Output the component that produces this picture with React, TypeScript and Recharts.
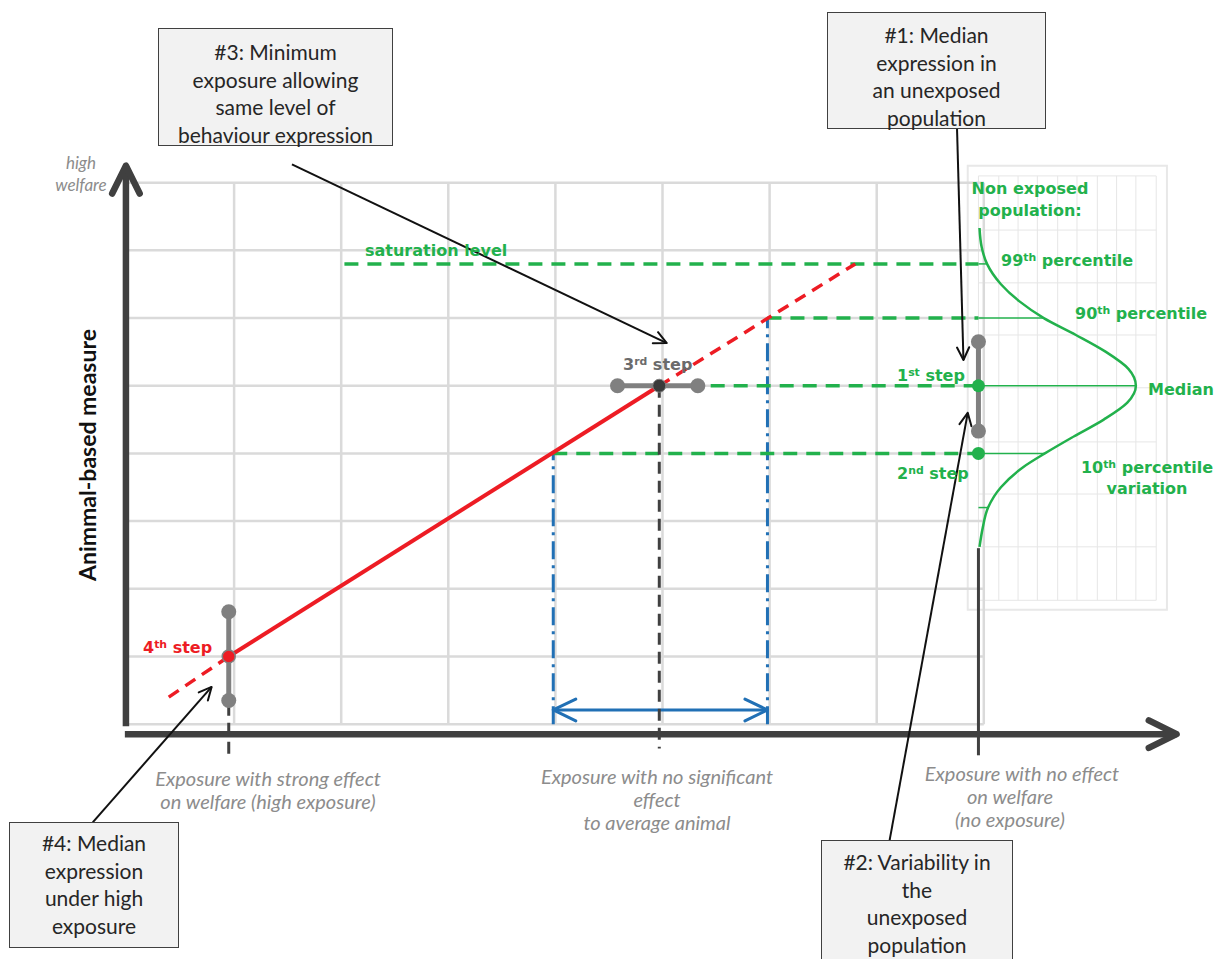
import React from 'react';
import { LineChart, Line, XAxis, YAxis, ReferenceLine, ReferenceDot, ReferenceArea } from 'recharts';

// grid ticks: exposure units along x, measure units along y
const gridX = [1, 2, 3, 4, 5, 6, 7, 8];
const gridY = [0, 1, 2, 3, 4, 5, 6, 7, 8];
// faint grid behind the distribution panel
const distGridX = [7.95, 8.14, 8.32, 8.5, 8.69, 8.87, 9.06, 9.24, 9.42, 9.61];
const distGridY = [1.83, 2.62, 3.4, 4.17, 4.97, 5.75, 6.52, 7.3, 8.1];

// response of the animal-based measure to exposure
const responseLow = [{ x: 0.39, y: 0.4 }, { x: 0.95, y: 1.0 }];
const responseMid = [{ x: 0.95, y: 1.0 }, { x: 4.97, y: 5.0 }];
const responseHigh = [{ x: 4.97, y: 5.0 }, { x: 6.8, y: 6.8 }];

// non exposed population (measure -> spread)
const distribution = [
  { y: 2.62, x: 7.96 }, { y: 2.9, x: 7.99 }, { y: 3.2, x: 8.04 }, { y: 3.5, x: 8.16 },
  { y: 3.8, x: 8.37 }, { y: 4.0, x: 8.57 }, { y: 4.25, x: 8.84 }, { y: 4.5, x: 9.12 },
  { y: 4.75, x: 9.34 }, { y: 5.0, x: 9.42 }, { y: 5.25, x: 9.35 }, { y: 5.5, x: 9.14 },
  { y: 5.75, x: 8.86 }, { y: 6.0, x: 8.56 }, { y: 6.25, x: 8.33 }, { y: 6.5, x: 8.16 },
  { y: 6.8, x: 8.03 }, { y: 7.05, x: 7.98 }, { y: 7.33, x: 7.96 },
];
// percentile levels and where they meet the curve
const percentiles = [
  { y: 6.8, x: 8.03 }, { y: 6.0, x: 8.56 }, { y: 5.0, x: 9.42 }, { y: 4.0, x: 8.57 }, { y: 3.2, x: 8.04 },
];

// key exposures
const highExposure = 0.95;
const noSigExposure = 4.97;
const noExposure = 7.95;
const bandLow = 3.98;
const bandHigh = 5.98;

// green dashed levels: [y, start x]
const levels = [
  { y: 6.8, from: 2.03 },
  { y: 6.0, from: 5.98 },
  { y: 5.0, from: 5.45 },
  { y: 4.0, from: 3.98 },
];

// step markers
const step3Bar = [{ x: 4.58, y: 5 }, { x: 5.33, y: 5 }];
const step4Bar = [{ x: 0.95, y: 1.66 }, { x: 0.95, y: 0.35 }];
const step1Bar = [{ x: 7.95, y: 5.65 }, { x: 7.95, y: 4.33 }];

const GREEN = '#22b14c';
const RED = '#ed1c24';
const BLUE = '#2170b5';
const GRAY = '#808080';
const DARK = '#404040';
const GRID = '#dadada';

const arrowShape = (color: string, width: number, head: number, spread: number, both = false) => (p: any) => {
  const { x1, y1, x2, y2 } = p;
  if (x1 == null) return <g />;
  const a = Math.atan2(y2 - y1, x2 - x1);
  const tip = (x: number, y: number, ang: number) =>
    `M${x - head * Math.cos(ang - spread)},${y - head * Math.sin(ang - spread)} L${x},${y} L${x - head * Math.cos(ang + spread)},${y - head * Math.sin(ang + spread)}`;
  const d = tip(x2, y2, a) + (both ? ' ' + tip(x1, y1, a + Math.PI) : '');
  return (
    <g>
      <line x1={x1} y1={y1} x2={x2} y2={y2} stroke={color} strokeWidth={width} />
      <path d={d} fill="none" stroke={color} strokeWidth={width} strokeLinecap="round" strokeLinejoin="round" />
    </g>
  );
};

const Txt: React.FC<{ x: number; y: number; align?: 'left' | 'center'; style?: React.CSSProperties; children: React.ReactNode }> = ({ x, y, align = 'left', style, children }) => {
  const base: React.CSSProperties = { position: 'absolute', top: y - 12, lineHeight: '24px', height: 24, whiteSpace: 'nowrap', ...style };
  if (align === 'center') return <div style={{ ...base, left: x - 200, width: 400, textAlign: 'center' }}>{children}</div>;
  return <div style={{ ...base, left: x }}>{children}</div>;
};

const Sup: React.FC<{ children: React.ReactNode }> = ({ children }) => (
  <span style={{ fontSize: '0.68em', position: 'relative', top: '-0.45em' }}>{children}</span>
);

const Box: React.FC<{ left: number; top: number; width: number; height: number; pad: number; lines: string[] }> = ({ left, top, width, height, pad, lines }) => (
  <div style={{
    position: 'absolute', left, top, width, height, boxSizing: 'border-box', background: '#f2f2f2',
    border: `1.5px solid ${DARK}`, paddingTop: pad, textAlign: 'center', fontFamily: 'Lato, sans-serif',
    fontSize: 21, lineHeight: '27.5px', color: '#262626',
  }}>
    {lines.map((l) => <div key={l}>{l}</div>)}
  </div>
);

const greenLbl: React.CSSProperties = { fontFamily: '"DejaVu Sans", sans-serif', fontWeight: 700, fontSize: 16, color: GREEN };
const axisLbl: React.CSSProperties = { fontFamily: 'Lato, sans-serif', fontStyle: 'italic', fontSize: 20, color: '#8c8c8c' };

export default function App() {
  return (
    <div style={{ position: 'absolute', left: 0, top: 0, width: 1217, height: 959, background: '#fff', overflow: 'hidden' }}>
      <LineChart width={1217} height={959} margin={{ top: 115, right: 19, bottom: 201, left: 127 }}>
        <XAxis type="number" dataKey="x" domain={[0, 10]} allowDataOverflow hide />
        <YAxis type="number" dataKey="y" domain={[-0.5, 9]} allowDataOverflow hide />

        {/* distribution panel */}
        <ReferenceArea x1={7.85} x2={9.71} y1={1.69} y2={8.25} fill="none" stroke="#e8e8e8" strokeWidth={2} ifOverflow="visible" />
        {distGridX.map((v) => (
          <ReferenceLine key={'dx' + v} segment={[{ x: v, y: 1.83 }, { x: v, y: 8.1 }]} stroke="#e6e6e6" strokeWidth={1} />
        ))}
        {distGridY.map((v) => (
          <ReferenceLine key={'dy' + v} segment={[{ x: 7.95, y: v }, { x: 9.61, y: v }]} stroke="#e6e6e6" strokeWidth={1} />
        ))}

        {/* main grid */}
        {gridX.map((v) => (
          <ReferenceLine key={'gx' + v} segment={[{ x: v, y: 0 }, { x: v, y: 8 }]} stroke={GRID} strokeWidth={2.5} />
        ))}
        {gridY.map((v) => (
          <ReferenceLine key={'gy' + v} segment={[{ x: 0, y: v }, { x: 8, y: v }]} stroke={GRID} strokeWidth={2.5} />
        ))}

        {/* band of no significant effect */}
        <ReferenceLine segment={[{ x: bandLow, y: 0 }, { x: bandLow, y: 4 }]} stroke={BLUE} strokeWidth={3} strokeDasharray="18 6 3 6" />
        <ReferenceLine segment={[{ x: bandHigh, y: 0 }, { x: bandHigh, y: 6 }]} stroke={BLUE} strokeWidth={3} strokeDasharray="18 6 3 6" />
        <ReferenceLine segment={[{ x: bandLow, y: 0.21 }, { x: bandHigh, y: 0.21 }]} shape={arrowShape(BLUE, 3, 25, 0.45, true)} />

        {/* green levels */}
        {levels.map((l) => (
          <ReferenceLine key={'lv' + l.y} segment={[{ x: l.from, y: l.y }, { x: noExposure, y: l.y }]} stroke={GREEN} strokeWidth={3.5} strokeDasharray="14 9" />
        ))}
        {percentiles.map((p) => (
          <ReferenceLine key={'pc' + p.y} segment={[{ x: noExposure, y: p.y }, { x: p.x, y: p.y }]} stroke={GREEN} strokeWidth={1.5} />
        ))}

        {/* exposure markers */}
        <ReferenceLine segment={[{ x: noSigExposure, y: 5 }, { x: noSigExposure, y: -0.36 }]} stroke={DARK} strokeWidth={3} strokeDasharray="12 7" ifOverflow="visible" />
        <ReferenceLine segment={[{ x: highExposure, y: 0.3 }, { x: highExposure, y: -0.45 }]} stroke={DARK} strokeWidth={3} strokeDasharray="12 7" ifOverflow="visible" />
        <ReferenceLine segment={[{ x: noExposure, y: 2.6 }, { x: noExposure, y: -0.46 }]} stroke={DARK} strokeWidth={3} ifOverflow="visible" />

        <Line data={distribution} dataKey="y" type="monotoneY" stroke={GREEN} strokeWidth={2.5} dot={false} isAnimationActive={false} />
        <Line data={responseLow} dataKey="y" stroke={RED} strokeWidth={3.5} strokeDasharray="12 8" dot={false} isAnimationActive={false} />
        <Line data={responseMid} dataKey="y" stroke={RED} strokeWidth={4} dot={false} isAnimationActive={false} />
        <Line data={responseHigh} dataKey="y" stroke={RED} strokeWidth={3.5} strokeDasharray="12 8" dot={false} isAnimationActive={false} />

        <Line data={step3Bar} dataKey="y" stroke={GRAY} strokeWidth={5} dot={{ r: 7.5, fill: GRAY, stroke: GRAY, strokeWidth: 0 }} isAnimationActive={false} />
        <Line data={step4Bar} dataKey="y" stroke={GRAY} strokeWidth={5} dot={{ r: 7.5, fill: GRAY, stroke: GRAY, strokeWidth: 0 }} isAnimationActive={false} />
        <Line data={step1Bar} dataKey="y" stroke={GRAY} strokeWidth={5} dot={{ r: 7.5, fill: GRAY, stroke: GRAY, strokeWidth: 0 }} isAnimationActive={false} />

        <ReferenceDot x={noSigExposure} y={5} r={6.5} fill="#3a3a3a" stroke={GRAY} strokeWidth={1} />
        <ReferenceDot x={highExposure} y={1} r={6.5} fill={RED} stroke={GRAY} strokeWidth={1.5} />
        <ReferenceDot x={noExposure} y={5} r={6.5} fill={GREEN} stroke="none" />
        <ReferenceDot x={noExposure} y={4} r={6.5} fill={GREEN} stroke="none" />

        {/* axes */}
        <ReferenceLine segment={[{ x: -0.01, y: -0.03 }, { x: -0.01, y: 8.25 }]} ifOverflow="visible" shape={arrowShape(DARK, 6.5, 31, 0.46)} />
        <ReferenceLine segment={[{ x: -0.02, y: -0.148 }, { x: 9.8, y: -0.148 }]} ifOverflow="visible" shape={arrowShape(DARK, 6.5, 31, 0.46)} />

        {/* callout arrows */}
        <ReferenceLine segment={[{ x: 1.54, y: 8.27 }, { x: 5.04, y: 5.63 }]} ifOverflow="visible" shape={arrowShape('#111', 2, 14, 0.45)} />
        <ReferenceLine segment={[{ x: 7.75, y: 8.8 }, { x: 7.81, y: 5.38 }]} ifOverflow="visible" shape={arrowShape('#111', 2, 14, 0.45)} />
        <ReferenceLine segment={[{ x: 7.12, y: -1.72 }, { x: 7.85, y: 4.6 }]} ifOverflow="visible" shape={arrowShape('#111', 2, 14, 0.45)} />
        <ReferenceLine segment={[{ x: -0.32, y: -1.45 }, { x: 0.79, y: 0.55 }]} ifOverflow="visible" shape={arrowShape('#111', 2, 14, 0.45)} />
      </LineChart>

      {/* callout boxes */}
      <Box left={158} top={28} width={235} height={118} pad={9} lines={['#3: Minimum', 'exposure allowing', 'same level of', 'behaviour expression']} />
      <Box left={827} top={12} width={219} height={117} pad={8} lines={['#1: Median', 'expression in', 'an unexposed', 'population']} />
      <Box left={9} top={822} width={170} height={126} pad={6} lines={['#4: Median', 'expression', 'under high', 'exposure']} />
      <Box left={821} top={840} width={192} height={140} pad={7} lines={['#2: Variability in', 'the', 'unexposed', 'population']} />

      {/* axis texts */}
      <Txt x={81} y={163} align="center" style={{ ...axisLbl, fontSize: 17 }}>high</Txt>
      <Txt x={81} y={185} align="center" style={{ ...axisLbl, fontSize: 17 }}>welfare</Txt>
      <div style={{
        position: 'absolute', left: 87 - 200, top: 455 - 14, width: 400, height: 28, lineHeight: '28px', textAlign: 'center',
        transform: 'rotate(-90deg)', fontFamily: 'Lato, sans-serif', fontWeight: 700, fontSize: 23, color: '#111',
      }}>Animmal-based measure</div>

      <Txt x={268} y={778} align="center" style={axisLbl}>Exposure with strong effect</Txt>
      <Txt x={268} y={801} align="center" style={axisLbl}>on welfare (high exposure)</Txt>
      <Txt x={657} y={776} align="center" style={axisLbl}>Exposure with no significant</Txt>
      <Txt x={657} y={799} align="center" style={axisLbl}>effect</Txt>
      <Txt x={657} y={822} align="center" style={axisLbl}>to average animal</Txt>
      <Txt x={1022} y={773} align="center" style={axisLbl}>Exposure with no effect</Txt>
      <Txt x={1010} y={796} align="center" style={axisLbl}>on welfare</Txt>
      <Txt x={1010} y={819} align="center" style={axisLbl}>(no exposure)</Txt>

      {/* in-plot labels */}
      <Txt x={365} y={251} style={greenLbl}>saturation level</Txt>
      <Txt x={623} y={365} style={{ ...greenLbl, color: '#6b6b6b' }}>3<Sup>rd</Sup> step</Txt>
      <Txt x={143} y={648} style={{ ...greenLbl, color: RED }}>4<Sup>th</Sup> step</Txt>
      <Txt x={897} y={376} style={greenLbl}>1<Sup>st</Sup> step</Txt>
      <Txt x={897} y={474} style={greenLbl}>2<Sup>nd</Sup> step</Txt>
      <Txt x={1030} y={189} align="center" style={greenLbl}>Non exposed</Txt>
      <Txt x={1030} y={211} align="center" style={greenLbl}>population:</Txt>
      <Txt x={1001} y={261} style={greenLbl}>99<Sup>th</Sup> percentile</Txt>
      <Txt x={1075} y={314} style={greenLbl}>90<Sup>th</Sup> percentile</Txt>
      <Txt x={1148} y={390} style={greenLbl}>Median</Txt>
      <Txt x={1147} y={468} align="center" style={greenLbl}>10<Sup>th</Sup> percentile</Txt>
      <Txt x={1147} y={489} align="center" style={greenLbl}>variation</Txt>
    </div>
  );
}
